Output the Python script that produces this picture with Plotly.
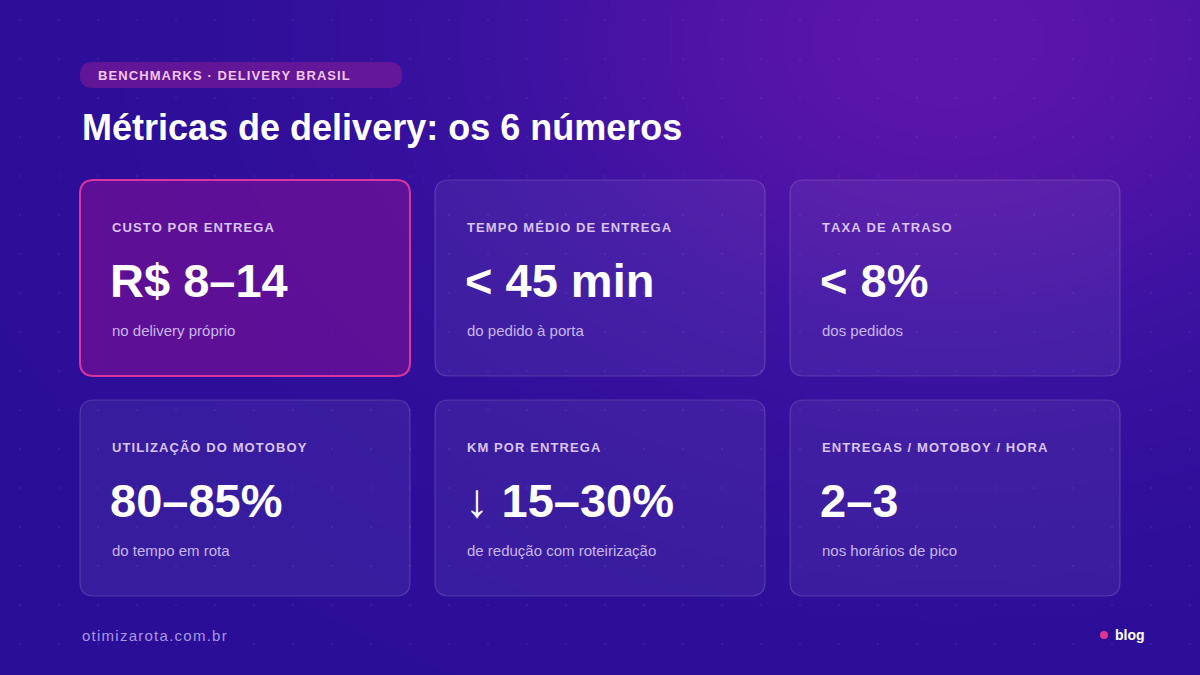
import numpy as np
import plotly.graph_objects as go

W, H = 1200, 675

badge_text = "BENCHMARKS · DELIVERY BRASIL"
title_text = "Métricas de delivery: os 6 números"
labels = ["CUSTO POR ENTREGA", "TEMPO MÉDIO DE ENTREGA", "TAXA DE ATRASO",
          "UTILIZAÇÃO DO MOTOBOY", "KM POR ENTREGA", "ENTREGAS / MOTOBOY / HORA"]
values = ["R$ 8–14", "< 45 min", "< 8%", "80–85%", "↓ 15–30%", "2–3"]
notes = ["no delivery próprio", "do pedido à porta", "dos pedidos",
         "do tempo em rota", "de redução com roteirização", "nos horários de pico"]
footer_left = "otimizarota.com.br"
footer_right = "blog"

FONT = "Liberation Sans, Arial, sans-serif"


def spaced(s):
    # fake letter-spacing with thin spaces
    return "\u200a".join(s)


def rrect(x0, y0, x1, y1, r):
    return (f"M{x0+r},{y0} L{x1-r},{y0} Q{x1},{y0} {x1},{y0+r} L{x1},{y1-r} "
            f"Q{x1},{y1} {x1-r},{y1} L{x0+r},{y1} Q{x0},{y1} {x0},{y1-r} "
            f"L{x0},{y0+r} Q{x0},{y0} {x0+r},{y0} Z")


fig = go.Figure()

# background gradient
gx = np.linspace(0, W, 60)
gy = np.linspace(0, H, 40)
GX, GY = np.meshgrid(gx, gy)
d = np.exp(-(((GX - 950) / 500) ** 2 + ((GY - 40) / 350) ** 2))
fig.add_trace(go.Heatmap(x=gx, y=gy, z=d, showscale=False, hoverinfo="skip",
                         colorscale=[[0, "#2b0e98"], [0.5, "#3e12a2"], [1, "#5c15a9"]],
                         zsmooth="best"))

# faint dot grid
dx, dy = np.meshgrid(np.arange(20, W, 39), np.arange(20, H, 39))
fig.add_trace(go.Scatter(x=dx.ravel(), y=dy.ravel(), mode="markers", hoverinfo="skip",
                         marker=dict(size=2, color="rgba(255,255,255,0.08)")))

shapes = []
ann = []

# badge
shapes.append(dict(type="path", path=rrect(80, 62, 402, 88, 13),
                   fillcolor="rgba(140,30,150,0.55)", line=dict(width=0)))
ann.append(dict(x=96, y=75, text=spaced(badge_text), xanchor="left", yanchor="middle",
                font=dict(family=FONT, size=13, color="#f3c6ee", weight="bold")))
ann.append(dict(x=80, y=127, text=title_text, xanchor="left", yanchor="middle",
                font=dict(family=FONT, size=36, color="white", weight="bold")))

xs = [80, 435, 790]
ys = [180, 400]
cw, ch = 330, 196
for i in range(6):
    x0 = xs[i % 3]
    y0 = ys[i // 3]
    if i == 0:
        shapes.append(dict(type="path", path=rrect(x0, y0, x0 + cw, y0 + ch, 14),
                           fillcolor="rgba(110,18,150,0.75)", line=dict(color="#d8369e", width=2)))
    else:
        shapes.append(dict(type="path", path=rrect(x0, y0, x0 + cw, y0 + ch, 14),
                           fillcolor="rgba(255,255,255,0.06)",
                           line=dict(color="rgba(255,255,255,0.16)", width=1.2)))
    ann.append(dict(x=x0 + 30, y=y0 + 47, text=spaced(labels[i]), xanchor="left", yanchor="middle",
                    font=dict(family=FONT, size=13, color="#d9c4f2", weight="bold")))
    ann.append(dict(x=x0 + 28, y=y0 + 100, text=values[i], xanchor="left", yanchor="middle",
                    font=dict(family=FONT, size=47, color="white", weight="bold")))
    ann.append(dict(x=x0 + 30, y=y0 + 150, text=notes[i], xanchor="left", yanchor="middle",
                    font=dict(family=FONT, size=15, color="#c8b6ee")))

ann.append(dict(x=80, y=635, text=spaced(footer_left), xanchor="left", yanchor="middle",
                font=dict(family=FONT, size=15, color="#a996e0")))
ann.append(dict(x=1147, y=635, text=footer_right, xanchor="right", yanchor="middle",
                font=dict(family=FONT, size=14, color="white", weight="bold")))
shapes.append(dict(type="circle", x0=1100, x1=1108, y0=631, y1=639,
                   fillcolor="#e0358f", line=dict(width=0)))

for a in ann:
    a.update(xref="x", yref="y", showarrow=False)

fig.update_layout(
    width=W, height=H, margin=dict(l=0, r=0, t=0, b=0),
    paper_bgcolor="#2b0e98", plot_bgcolor="#2b0e98",
    xaxis=dict(range=[0, W], visible=False, fixedrange=True),
    yaxis=dict(range=[H, 0], visible=False, fixedrange=True),
    shapes=shapes, annotations=ann, showlegend=False,
)

fig.write_html("out.html", config={"displayModeBar": False},
               post_script="document.body.style.margin='0';document.body.style.overflow='hidden';")
